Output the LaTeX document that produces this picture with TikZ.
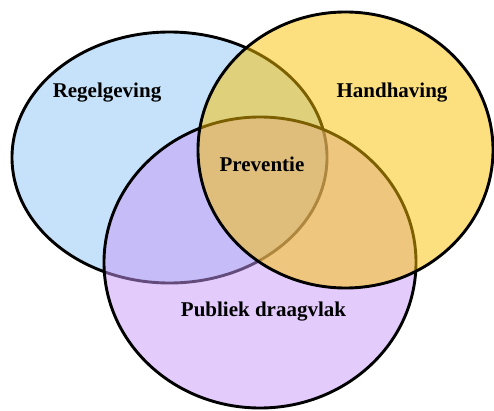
\documentclass[tikz,border=0pt]{standalone}
\usepackage{fontspec}
\setmainfont{Liberation Serif}
\begin{document}
\begin{tikzpicture}[x=1pt,y=1pt,
  venn/.style={draw=black,line width=2.9pt,fill opacity=0.5},
  lbl/.style={font=\fontsize{21}{24}\selectfont\bfseries,text=black}]
\definecolor{cblue}{RGB}{141,197,245}
\definecolor{cpurple}{RGB}{199,151,247}
\definecolor{cyellow}{RGB}{249,193,0}
\useasboundingbox (0,0) rectangle (494,410);
\path[venn,fill=cblue] (169.5,252.5) ellipse [x radius=157.5, y radius=125.5];
\path[venn,fill=cpurple] (260,147.5) ellipse [x radius=156, y radius=145.5];
\path[venn,fill=cyellow] (345.5,260) ellipse [x radius=147.5, y radius=138];
\node[lbl] (reg) at (107,317) {Regelgeving};
\node[lbl] (hand) at (392,317) {Handhaving};
\node[lbl] (prev) at (262,246) {Preventie};
\node[lbl] (pub) at (263.5,98) {Publiek draagvlak};
\end{tikzpicture}
\end{document}
